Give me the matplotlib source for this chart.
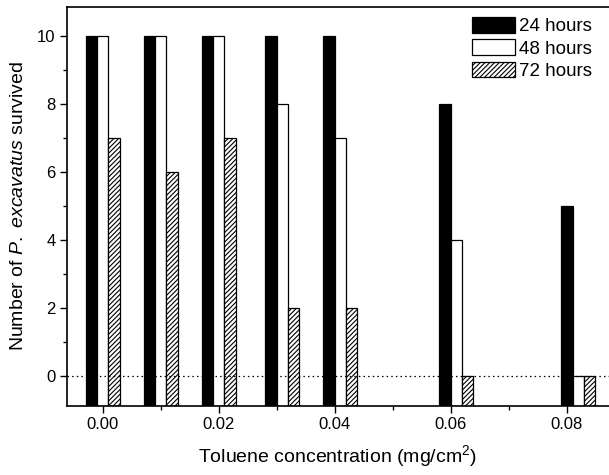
import matplotlib
matplotlib.use("Agg")
import matplotlib.pyplot as plt
from matplotlib.ticker import MultipleLocator
import numpy as np

plt.rcParams['font.family'] = ['Liberation Sans', 'DejaVu Sans']
plt.rcParams['mathtext.fontset'] = 'custom'
plt.rcParams['mathtext.rm'] = 'Liberation Sans'
plt.rcParams['mathtext.it'] = 'Liberation Sans:italic'
plt.rcParams['hatch.linewidth'] = 0.8

# Data
concentrations = [0.0, 0.01, 0.02, 0.031, 0.041, 0.061, 0.082]
hours24 = [10, 10, 10, 10, 10, 8, 5]
hours48 = [10, 10, 10, 8, 7, 4, 0]
hours72 = [7, 6, 7, 2, 2, 0, 0]
series_labels = ['24 hours', '48 hours', '72 hours']

W, H = 609, 475
fig = plt.figure(figsize=(W / 100, H / 100), dpi=100)
left_px, right_px, top_px, bottom_px = 66.7, 609.0, 6.7, 405.7
ax = fig.add_axes([left_px / W, 1 - bottom_px / H, (right_px - left_px) / W,
                   (bottom_px - top_px) / H])

ymin, ymax = -0.87, 10.86
xmin, xmax = -0.0062, 0.0873
ax.set_xlim(xmin, xmax)
ax.set_ylim(ymin, ymax)

bw = 0.00195
x = np.array(concentrations)
styles = [dict(color='black', edgecolor='black'),
          dict(color='white', edgecolor='black'),
          dict(color='white', edgecolor='black', hatch='///////')]
for i, (vals, st, lab) in enumerate(zip([hours24, hours48, hours72], styles, series_labels)):
    v = np.array(vals, dtype=float)
    ax.bar(x + (i - 1) * bw, v - ymin, bottom=ymin, width=bw, linewidth=0.9,
           label=lab, zorder=2, **st)

ax.axhline(0, color='black', linestyle=(0, (1.2, 2.5)), linewidth=0.9, zorder=3)

ax.xaxis.set_major_locator(MultipleLocator(0.02))
ax.xaxis.set_minor_locator(MultipleLocator(0.01))
ax.yaxis.set_major_locator(MultipleLocator(2))
ax.yaxis.set_minor_locator(MultipleLocator(1))
ax.set_xticks([0.0, 0.02, 0.04, 0.06, 0.08])
ax.set_xticklabels(['0.00', '0.02', '0.04', '0.06', '0.08'])
ax.tick_params(which='major', direction='out', length=5, width=1, labelsize=12, pad=3)
ax.tick_params(which='minor', direction='out', length=2.8, width=1)
ax.spines['right'].set_visible(False)
for s in ['left', 'top', 'bottom']:
    ax.spines[s].set_linewidth(1.2)

ax.set_xlabel('Toluene concentration (mg/cm$^2$)', fontsize=14, labelpad=8)
ax.set_ylabel(r'Number of $\mathit{P.\ excavatus}$ survived', fontsize=14, labelpad=7)

leg = ax.legend(loc='upper left', bbox_to_anchor=(471.7 / W, 1 - 17 / H),
                bbox_transform=fig.transFigure, frameon=False, fontsize=13.5,
                handlelength=2.3, handleheight=0.9, handletextpad=0.2,
                labelspacing=0.22, borderpad=0, borderaxespad=0)

fig.savefig('out.png', dpi=100)
